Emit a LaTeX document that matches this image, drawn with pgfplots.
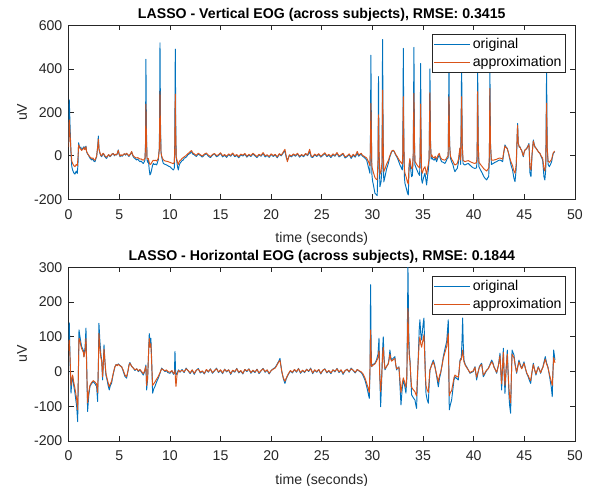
\documentclass[border=0pt]{standalone}
\usepackage{fontspec}
\setmainfont{Liberation Sans}
\usepackage{pgfplots}
\usepackage{pgfplotstable}
\pgfplotsset{compat=1.18}
\definecolor{mblue}{RGB}{0,114,189}
\definecolor{morange}{RGB}{217,83,25}
\definecolor{axgray}{RGB}{38,38,38}

% vertical EOG: t, original, approximation
\pgfplotstableread{
t o a
0.00 60 40
0.06 257 165
0.15 120 90
0.23 11 20
0.31 -50 -25
0.39 -65 -35
0.50 -78 -45
0.62 -84 -50
0.75 -70 -40
0.85 -81 -45
0.92 -40 -10
0.98 60 50
1.10 35 38
1.20 40 30
1.28 27 25
1.40 35 30
1.51 42 38
1.60 30 28
1.71 45 42
1.77 19 20
1.85 10 12
1.94 4 5
2.10 -10 -5
2.27 -19 -12
2.40 -15 -10
2.50 -25 -18
2.60 -27 -20
2.70 -12 -8
2.76 -4 -2
2.88 50 45
2.93 91 76
3.00 30 30
3.09 11 14
3.18 0 3
3.26 -4 0
3.34 5 8
3.42 11 12
3.55 -2 2
3.65 -8 -4
3.75 -12 -6
3.85 -2 0
3.95 5 6
4.08 -4 -2
4.20 2 4
4.30 8 9
4.41 11 10
4.52 0 3
4.62 6 7
4.74 4 5
4.82 12 14
4.90 27 25
4.98 8 10
5.07 -4 -1
5.17 3 5
5.28 -2 1
5.40 4 6
5.50 9 10
5.62 3 6
5.72 11 12
5.82 5 7
5.95 -3 0
6.05 4 6
6.14 10 12
6.22 19 20
6.30 5 8
6.38 -4 0
6.48 -10 -4
6.60 -14 -8
6.71 -19 -10
6.82 -15 -8
6.94 -22 -12
7.04 -27 -15
7.15 -24 -14
7.26 -30 -18
7.37 -35 -20
7.46 -28 -16
7.54 -19 -10
7.59 60 40
7.63 444 238
7.68 120 80
7.74 -19 -10
7.80 -30 -15
7.87 -19 -12
7.95 -60 -30
8.03 -88 -40
8.11 -80 -38
8.19 -65 -32
8.28 -45 -25
8.36 -35 -20
8.46 -40 -22
8.58 -38 -20
8.69 -42 -24
8.77 -30 -18
8.85 -19 -12
8.96 40 30
9.02 520 295
9.07 150 100
9.12 20 15
9.18 -4 0
9.26 -20 -10
9.35 -35 -18
9.46 -38 -22
9.56 -40 -24
9.67 -42 -25
9.78 -45 -26
9.88 -48 -28
10.00 -50 -30
10.10 -55 -32
10.22 -60 -34
10.33 -65 -36
10.43 -58 -30
10.48 60 40
10.53 491 284
10.58 130 90
10.62 -10 -5
10.66 -19 -12
10.75 -50 -30
10.83 -65 -40
10.91 -45 -28
10.99 -35 -22
11.10 -28 -18
11.20 -22 -12
11.32 -19 -8
11.42 -10 -4
11.55 -8 0
11.65 -4 4
11.78 5 10
11.88 8 14
11.98 11 18
12.06 15 22
12.14 19 24
12.25 8 14
12.4 5 9
12.6 -3 2
12.8 8 12
13.0 2 5
13.2 -6 -1
13.4 4 8
13.6 10 13
13.8 -2 3
14.0 -8 -3
14.2 3 6
14.4 9 11
14.6 -4 1
14.8 1 5
15.0 12 14
15.2 -5 0
15.4 3 6
15.6 -7 -2
15.8 6 9
16.0 -2 2
16.2 10 13
16.4 -4 0
16.6 2 6
16.8 -9 -4
17.0 5 8
17.2 -1 3
17.4 8 11
17.6 -6 -2
17.8 3 7
18.0 -3 1
18.2 9 12
18.4 0 4
18.6 -8 -3
18.8 4 7
19.0 -2 2
19.2 11 15
19.4 -5 0
19.6 2 5
19.8 -7 -3
20.0 6 9
20.2 -3 1
20.4 4 7
20.6 -9 -5
20.8 7 10
21.0 0 3
21.2 14 18
21.36 22 30
21.5 -10 -5
21.6 -20 -27
21.8 2 5
22.0 -5 -1
22.2 6 9
22.4 -2 2
22.6 9 12
22.8 -6 -2
23.0 3 6
23.2 -4 0
23.4 8 11
23.6 1 4
23.8 20 30
23.95 -5 0
24.1 -8 -4
24.3 5 8
24.5 -3 1
24.7 7 10
24.9 -6 -2
25.1 2 6
25.3 10 14
25.5 -4 0
25.7 3 7
25.9 -8 -3
26.1 5 9
26.3 -2 2
26.5 12 15
26.7 -5 -1
26.9 1 5
27.1 8 12
27.3 -10 -5
27.5 -4 0
27.7 6 9
27.9 -12 -6
28.1 3 7
28.3 -6 -1
28.5 12 20
28.65 -2 3
28.77 4 8
28.9 8 12
29.0 -1 3
29.1 -4 0
29.25 -10 -4
29.43 -19 -10
29.59 -50 -25
29.70 -70 -38
29.75 -80 -45
29.80 40 30
29.85 463 241
29.90 120 80
29.94 -80 -45
30.00 -111 -60
30.12 -140 -80
30.25 -172 -100
30.38 -178 -108
30.47 -183 -110
30.55 -40 -20
30.60 364 188
30.65 20 20
30.74 -142 -85
30.85 -120 -70
30.95 -60 -30
31.00 535 302
31.06 100 70
31.12 -120 -72
31.24 -96 -60
31.40 -60 -38
31.57 -35 -22
31.72 -5 0
31.90 19 22
32.05 25 26
32.16 19 20
32.28 5 8
32.40 -4 0
32.55 -20 -12
32.72 -42 -25
32.85 -55 -32
32.95 -65 -38
33.00 0 10
33.05 494 272
33.10 100 70
33.15 -90 -55
33.21 -126 -80
33.35 -150 -100
33.45 -170 -120
33.54 -180 -130
33.62 -60 -40
33.70 -19 -12
33.80 -70 -45
33.87 -96 -60
33.95 -90 -55
34.03 0 10
34.10 499 287
34.15 80 60
34.20 -42 -25
34.35 -60 -38
34.53 -80 -50
34.66 -90 -55
34.71 0 10
34.76 425 238
34.81 50 40
34.86 -110 -70
34.93 -126 -80
35.05 -100 -60
35.19 -80 -50
35.28 -110 -70
35.35 -134 -85
35.45 -90 -55
35.52 -65 -40
35.60 -20 -10
35.68 400 290
35.74 60 50
35.80 -15 -5
35.85 -4 5
35.95 -15 -5
36.10 -20 -10
36.20 -10 -2
36.34 -27 -15
36.45 -10 0
36.60 4 12
36.70 -12 -5
36.83 -27 -15
37.00 -30 -18
37.16 -35 -20
37.28 -25 -14
37.39 -12 -5
37.48 -10 0
37.56 420 272
37.62 60 50
37.70 -10 0
37.82 -27 -15
37.95 -40 -25
38.05 -60 -35
38.15 -73 -42
38.25 -65 -40
38.38 -58 -35
38.50 -30 -15
38.64 34 36
38.72 -40 -20
38.81 430 272
38.87 60 50
38.95 -35 -20
39.05 -40 -24
39.14 -42 -27
39.30 -38 -24
39.47 -35 -22
39.62 -42 -26
39.80 -50 -30
39.95 -55 -33
40.13 -58 -35
40.28 -55 -30
40.34 -20 0
40.39 430 295
40.45 60 50
40.52 -50 -30
40.68 -65 -40
40.85 -80 -50
41.01 -96 -60
41.15 -105 -65
41.28 -111 -70
41.40 -100 -62
41.48 -96 -58
41.55 -20 0
41.60 420 310
41.66 60 50
41.75 -40 -20
41.93 -35 -20
42.10 -30 -18
42.26 -27 -16
42.42 -22 -12
42.59 -19 -10
42.72 -22 -12
42.86 -27 -15
42.96 10 15
43.09 50 45
43.20 40 38
43.32 34 32
43.45 10 12
43.58 -19 -12
43.70 -45 -30
43.84 -65 -45
43.96 -100 -68
44.08 -119 -80
44.20 -60 -40
44.30 100 100
44.34 149 140
44.40 60 60
44.50 40 40
44.57 42 40
44.66 30 30
44.73 27 26
44.82 10 12
44.90 -4 0
44.98 15 16
45.06 27 26
45.15 30 30
45.23 34 32
45.35 45 42
45.46 57 52
45.52 -20 -10
45.56 -80 -55
45.66 -96 -65
45.76 0 5
45.89 73 68
45.97 55 52
46.05 42 40
46.17 35 34
46.28 27 26
46.40 18 18
46.54 11 12
46.68 -5 -2
46.81 -19 -10
46.88 -60 -35
46.94 -96 -60
47.03 -111 -70
47.12 -60 -30
47.20 400 242
47.26 40 40
47.35 -40 -25
47.47 -50 -30
47.58 -40 -24
47.70 -27 -16
47.78 -5 0
47.86 11 14
48.00 19 22
}\vdata

% horizontal EOG: t, original, approximation
\pgfplotstableread{
t o a
0.00 80 60
0.06 140 91
0.15 20 30
0.23 -62 -40
0.31 -30 -20
0.39 -14 -10
0.50 -40 -30
0.62 -62 -48
0.70 -80 -62
0.79 -100 -80
0.89 -144 -110
0.96 0 -10
1.02 120 96
1.12 100 88
1.20 85 75
1.28 72 66
1.38 66 60
1.45 60 55
1.51 43 42
1.62 70 60
1.71 125 95
1.78 20 10
1.87 -115 -90
1.98 -70 -60
2.10 -43 -40
2.25 -35 -32
2.43 -29 -26
2.60 -35 -30
2.76 -43 -36
2.86 -86 -60
2.94 30 20
2.99 139 110
3.08 90 70
3.18 50 40
3.26 34 30
3.35 -24 -15
3.42 20 20
3.49 77 65
3.58 30 30
3.68 -10 -5
3.80 -25 -20
3.90 -40 -32
4.01 -53 -44
4.12 -40 -35
4.24 -33 -28
4.35 -15 -12
4.46 0 2
4.57 14 14
4.68 20 20
4.80 18 17
4.90 22 21
5.05 18 17
5.23 14 14
5.40 0 3
5.56 -14 -10
5.72 -19 -15
5.88 5 5
5.96 20 18
6.05 26 24
6.20 16 16
6.38 10 10
6.55 3 5
6.72 8 8
6.88 0 2
7.04 5 6
7.20 -2 0
7.37 -10 -6
7.50 0 2
7.63 19 15
7.70 -53 -40
7.80 -20 -18
7.90 60 60
7.96 109 95
8.05 80 70
8.12 96 80
8.19 40 30
8.29 -62 -40
8.40 -50 -35
8.52 -43 -30
8.68 -30 -22
8.85 -19 -14
9.02 -5 -3
9.18 10 8
9.35 5 5
9.51 0 2
9.65 3 5
9.80 -3 0
10.00 -5 -2
10.20 2 3
10.35 -8 -5
10.45 0 -5
10.50 58 5
10.56 0 -30
10.60 -10 -43
10.70 -5 -10
10.85 5 3
11.00 -2 0
11.2 6 4
11.4 -3 -1
11.6 10 8
11.8 2 3
12.0 -6 -4
12.2 4 5
12.4 -8 -5
12.6 3 4
12.8 9 7
13.0 -4 -2
13.2 1 2
13.4 -7 -5
13.6 5 6
13.8 -2 0
14.0 8 7
14.2 -5 -3
14.4 2 3
14.6 10 8
14.8 -3 -1
15.0 4 5
15.2 -6 -4
15.4 7 6
15.6 -1 1
15.8 5 5
16.0 -8 -6
16.2 3 4
16.4 -2 0
16.6 9 8
16.8 -4 -2
17.0 2 3
17.2 -7 -5
17.4 6 6
17.6 0 2
17.8 8 7
18.0 -5 -3
18.2 3 4
18.4 -3 -1
18.6 7 6
18.8 -6 -4
19.0 2 3
19.2 9 8
19.4 -2 0
19.6 4 5
19.8 -7 -5
20.0 3 3
20.2 8 7
20.4 12 10
20.6 22 20
20.75 30 28
20.87 38 32
20.95 20 18
21.05 0 0
21.2 -20 -18
21.36 -34 -28
21.5 -20 -18
21.7 -8 -6
21.9 2 3
22.1 -4 -2
22.3 6 6
22.5 -2 0
22.7 9 8
22.9 -5 -3
23.1 3 4
23.3 -3 -1
23.5 7 6
23.7 0 2
23.9 10 8
24.1 -6 -4
24.3 4 5
24.5 -2 0
24.7 6 6
24.9 -7 -5
25.1 3 4
25.3 8 7
25.5 -4 -2
25.7 2 3
25.9 -6 -4
26.1 5 5
26.3 -1 1
26.5 9 8
26.7 -3 -1
26.9 4 5
27.1 -8 -5
27.3 2 3
27.5 7 6
27.7 -2 0
27.9 10 8
28.1 3 4
28.3 -4 -2
28.5 6 6
28.7 1 2
28.9 -3 -1
29.05 -10 -6
29.26 -24 -18
29.45 -45 -35
29.60 -65 -50
29.69 -77 -60
29.76 0 10
29.82 250 120
29.87 80 50
29.92 14 15
30.05 20 18
30.25 24 22
30.41 34 30
30.55 50 40
30.65 96 60
30.72 0 -10
30.81 -101 -58
30.92 -20 -10
31.00 60 45
31.07 100 70
31.15 40 30
31.24 5 8
31.40 15 15
31.57 24 22
31.65 40 35
31.73 62 50
31.82 40 35
31.90 34 30
32.05 38 34
32.22 43 38
32.30 20 20
32.39 5 8
32.50 10 10
32.62 14 12
32.72 -40 -25
32.82 -96 -60
32.94 -50 -35
33.05 -24 -18
33.18 -40 -30
33.31 -62 -45
33.40 -20 -10
33.46 150 100
33.51 302 182
33.58 120 80
33.65 50 40
33.71 34 28
33.79 -20 -15
33.87 -67 -45
34.03 -75 -52
34.20 -82 -58
34.28 -95 -65
34.36 -106 -70
34.45 -20 -10
34.55 60 45
34.62 120 85
34.69 149 100
34.77 110 80
34.86 91 70
34.95 120 85
35.02 140 95
35.09 154 106
35.17 60 40
35.22 0 -5
35.29 -63 -40
35.40 -80 -52
35.52 -91 -60
35.60 -40 -25
35.68 4 5
35.85 20 18
36.01 33 28
36.10 25 20
36.18 14 12
36.35 -15 -10
36.51 -44 -30
36.62 -20 -12
36.74 -5 -2
36.88 20 18
37.00 43 38
37.16 65 55
37.33 86 72
37.42 120 95
37.49 149 110
37.54 20 10
37.59 -110 -70
37.70 -95 -60
37.82 -82 -55
37.95 -50 -35
38.05 -25 -18
38.15 -15 -10
38.32 -20 -14
38.48 -24 -16
38.56 0 2
38.65 33 30
38.78 40 35
38.86 100 50
38.91 154 62
38.97 80 45
39.04 33 28
39.17 20 18
39.30 14 12
39.46 5 5
39.63 -5 -3
39.80 -2 0
39.96 0 2
40.05 8 8
40.13 14 12
40.21 -5 -3
40.29 -24 -16
40.42 -5 -2
40.56 14 12
40.68 20 18
40.79 24 20
40.87 5 5
40.95 -15 -10
41.08 -8 -5
41.22 0 2
41.32 5 5
41.44 9 8
41.60 20 18
41.78 33 28
41.90 25 22
42.01 14 12
42.14 5 5
42.27 -5 -2
42.45 20 18
42.60 53 45
42.68 0 5
42.76 -53 -35
42.85 10 15
42.93 67 55
43.00 0 5
43.09 -63 -40
43.20 0 10
43.32 62 50
43.40 0 -5
43.49 -72 -50
43.56 -100 -75
43.65 -120 -90
43.72 -20 -20
43.79 62 50
43.88 55 45
43.98 48 40
44.10 20 18
44.24 -5 -2
44.35 15 12
44.47 33 28
44.60 20 18
44.74 9 8
44.85 18 15
44.97 28 24
45.10 10 10
45.23 -5 -3
45.31 -10 -8
45.39 -15 -12
45.50 -25 -20
45.63 -34 -26
45.75 -5 -2
45.89 24 20
46.02 5 5
46.15 -10 -6
46.26 2 3
46.38 14 12
46.50 5 5
46.61 -5 -3
46.72 5 5
46.84 14 12
46.95 28 24
47.07 43 36
47.20 25 22
47.33 14 12
47.50 -15 -10
47.66 -44 -28
47.76 -72 -40
47.83 0 0
47.90 62 40
48.03 33 25
}\hdata

\pgfplotsset{
  eog/.style={
    scale only axis, width=379.7pt,
    xmin=0, xmax=50, xtick={0,5,...,50},
    clip mode=individual,
    tick align=inside, tick pos=both,
    major tick length=3.75pt,
    axis line style={axgray, line width=0.5pt},
    every tick/.style={axgray, line width=0.5pt},
    tick label style={font=\fontsize{10.6}{12.7}\selectfont, text=axgray},
    /pgf/number format/assume math mode=true,
    xticklabel style={yshift=-4pt},
    yticklabel style={xshift=-1.2pt},
    xlabel={time (seconds)}, ylabel={uV},
    label style={font=\fontsize{10.6}{12.7}\selectfont, text=axgray},
    xlabel style={at={(0.5,0)}, anchor=center, yshift=-29.5pt},
    ylabel style={at={(0,0.5)}, anchor=center, yshift=35pt},
    legend cell align=left,
    legend image code/.code={\draw[#1] (0pt,0pt) -- (27pt,0pt);},
    legend style={at={(1,1)}, anchor=north east, xshift=-6.75pt, yshift=-6.5pt,
      font=\fontsize{10.6}{12.7}\selectfont, draw=axgray, line width=0.5pt,
      fill=white, inner xsep=1.5pt, inner ysep=1.5pt, row sep=1.2pt,
      nodes={inner xsep=1.5pt, inner ysep=1.5pt}},
  },
}
\tikzset{
  ttl/.style={font=\bfseries\fontsize{10.6}{12.7}\selectfont, text=black,
    anchor=base, yshift=5.3pt},
}

\begin{document}
\begin{tikzpicture}
\path[use as bounding box] (-51.5pt,19pt) rectangle (391pt,-345.5pt);

\begin{axis}[eog, at={(0pt,0pt)}, anchor=north west, height=130.5pt,
  ymin=-200, ymax=600, ytick={-200,0,200,400,600}]
\addplot[mblue, line width=0.7pt, line join=round] table[x=t, y=o] {\vdata};
\addplot[morange, line width=0.7pt, line join=round] table[x=t, y=a] {\vdata};
\legend{original, approximation}
\node[ttl] at (rel axis cs:0.5,1) {LASSO - Vertical EOG (across subjects), RMSE: 0.3415};
\end{axis}

\begin{axis}[eog, at={(0pt,-181.5pt)}, anchor=north west, height=130.3pt,
  ymin=-200, ymax=300, ytick={-200,-100,0,100,200,300}]
\addplot[mblue, line width=0.7pt, line join=round] table[x=t, y=o] {\hdata};
\addplot[morange, line width=0.7pt, line join=round] table[x=t, y=a] {\hdata};
\legend{original, approximation}
\node[ttl] at (rel axis cs:0.5,1) {LASSO - Horizontal EOG (across subjects), RMSE: 0.1844};
\end{axis}
\end{tikzpicture}
\end{document}
